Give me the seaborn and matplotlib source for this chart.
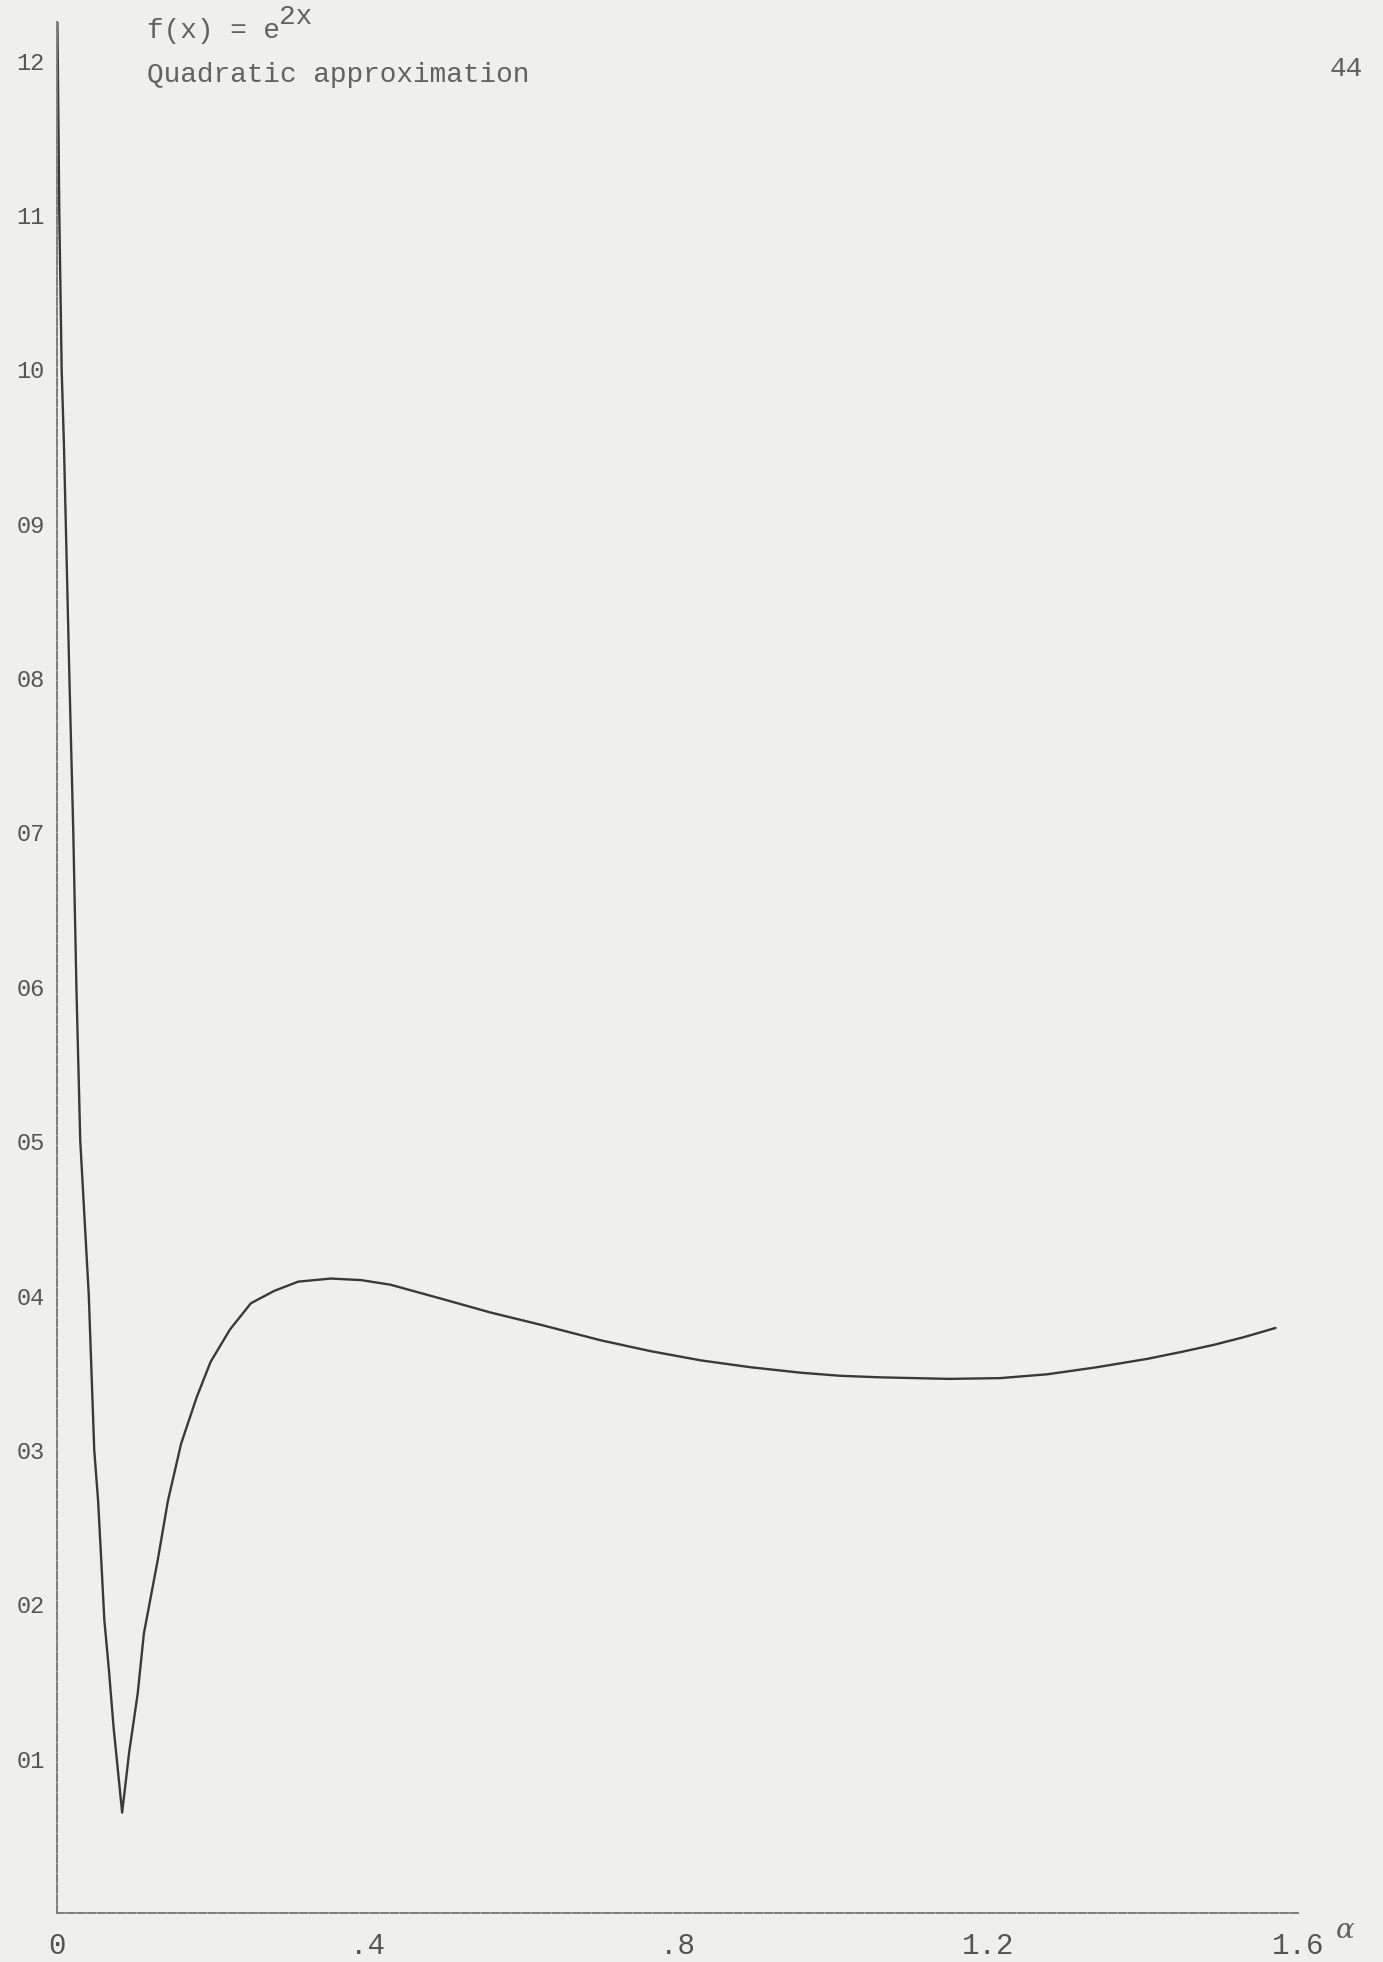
import numpy as np
import matplotlib
matplotlib.use('Agg')
import matplotlib.pyplot as plt
import seaborn as sns
import pandas as pd

# values (y in units of the printed tick labels)
alpha = [0.0005, 0.003, 0.006, 0.009, 0.016, 0.021, 0.025, 0.030, 0.041, 0.048,
         0.053, 0.057, 0.061, 0.067, 0.073, 0.084, 0.093, 0.104, 0.112, 0.130,
         0.143, 0.160, 0.180, 0.198, 0.223, 0.250, 0.280, 0.311, 0.353, 0.392,
         0.430, 0.495, 0.559, 0.624, 0.701, 0.765, 0.830, 0.895, 0.959, 1.010,
         1.062, 1.150, 1.216, 1.277, 1.340, 1.406, 1.450, 1.491, 1.530, 1.571]
error = [12.25, 11.0, 10.0, 9.5, 8.0, 7.0, 6.0, 5.0, 4.0, 3.0,
         2.67, 2.29, 1.90, 1.57, 1.20, 0.65, 1.04, 1.42, 1.81, 2.29,
         2.67, 3.04, 3.34, 3.57, 3.78, 3.95, 4.03, 4.09, 4.11, 4.10,
         4.07, 3.98, 3.89, 3.81, 3.71, 3.64, 3.58, 3.535, 3.50, 3.48,
         3.47, 3.46, 3.465, 3.49, 3.535, 3.59, 3.635, 3.68, 3.73, 3.79]

x_ticks = [0, 0.4, 0.8, 1.2, 1.6]
x_tick_labels = ['0', '.4', '.8', '1.2', '1.6']
y_ticks = [1, 2, 3, 4, 5, 6, 7, 8, 9, 10, 11, 12]
y_tick_labels = ['01', '02', '03', '04', '05', '06', '07', '08', '09', '10', '11', '12']

W, H = 1383, 1962
paper = '#efefed'
ink = '#3a3a3a'
grey = '#626262'
mono = ['Liberation Mono', 'DejaVu Sans Mono']

sns.set_style('white')
plt.rcParams['font.family'] = mono

df = pd.DataFrame({'alpha': alpha, 'error': error})

fig = plt.figure(figsize=(W / 100, H / 100), dpi=100, facecolor=paper)
ax = fig.add_axes([57 / W, 49 / H, (1298 - 57) / W, (1913 - 22) / H])
ax.set_facecolor(paper)

sns.lineplot(data=df, x='alpha', y='error', estimator=None, sort=False,
             color=ink, linewidth=1.7, ax=ax)

ax.set_xlim(0, 1.6)
ax.set_ylim(0, 12.25)
ax.set_xlabel('')
ax.set_ylabel('')

for s in ['top', 'right']:
    ax.spines[s].set_visible(False)
for s in ['left', 'bottom']:
    ax.spines[s].set_color('#7d7d7d')
    ax.spines[s].set_linewidth(1.4)
    ax.spines[s].set_linestyle((0, (4, 1.2)))

ax.set_xticks(x_ticks)
ax.set_xticklabels(x_tick_labels, fontsize=21, color='#555555')
ax.set_yticks(y_ticks)
ax.set_yticklabels(y_tick_labels, fontsize=17, color='#555555')
ax.tick_params(axis='x', direction='inout', length=9, width=1.3, color='#5a5a5a', pad=9)
ax.tick_params(axis='y', direction='inout', length=8, width=1.3, color='#5a5a5a', pad=5)

# page annotations
fig.text(147 / W, 1 - 38 / H, 'f(x) = e', fontsize=20, color=grey, va='baseline')
fig.text(279 / W, 1 - 24 / H, '2x', fontsize=20, color=grey, va='baseline')
fig.text(147 / W, 1 - 82 / H, 'Quadratic approximation', fontsize=20, color=grey,
         va='baseline')
fig.text(1363 / W, 1 - 76 / H, '44', fontsize=20, color=grey, va='baseline', ha='right')
fig.text(1345 / W, 1 - 1931 / H, 'α', fontsize=20, color=grey, va='center', ha='center',
         family=['DejaVu Serif'], style='italic')

fig.savefig('out.png', dpi=100, facecolor=paper)
